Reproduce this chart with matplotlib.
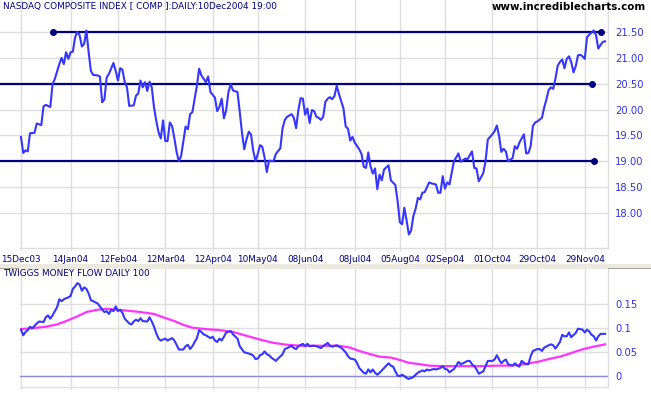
import matplotlib
matplotlib.use("Agg")
import matplotlib.pyplot as plt
from matplotlib.patches import Rectangle
import pandas as pd

# trading day number counted from 15 Dec 2003 (weekdays)
price_day = [
    0, 1, 2, 3, 4, 6, 7, 9, 10, 11, 13, 14, 15, 17, 18, 19, 20, 21, 22, 23,
    24, 25, 26, 27, 28, 29, 30, 31, 32, 34, 35, 36, 37, 38, 39, 41, 42, 43, 44, 45,
    46, 47, 48, 50, 51, 52, 53, 54, 55, 56, 57, 58, 59, 60, 61, 62, 63, 64, 65, 66,
    67, 68, 69, 70, 71, 72, 73, 74, 75, 76, 78, 79, 80, 82, 83, 84, 86, 87, 88, 89,
    90, 91, 92, 93, 94, 96, 97, 98, 99, 100, 101, 102, 103, 104, 105, 106, 107, 108, 109, 110,
    112, 113, 115, 116, 117, 118, 120, 121, 122, 123, 124, 125, 126, 127, 128, 129, 130, 131, 132, 133,
    134, 135, 136, 137, 138, 139, 140, 141, 143, 144, 145, 146, 147, 148, 150, 151, 152, 153, 154, 155,
    156, 157, 158, 159, 160, 161, 163, 164, 166, 167, 168, 169, 170, 171, 172, 173, 174, 175, 176, 177,
    178, 179, 181, 182, 184, 185, 186, 187, 188, 189, 190, 191, 192, 194, 195, 197, 198, 200, 201, 202,
    203, 205, 206, 207, 209, 210, 211, 212, 213, 214, 215, 216, 218, 219, 220, 221, 223, 224, 225, 226,
    227, 228, 229, 231, 232, 233, 234, 235, 236, 237, 238, 239, 240, 241, 242, 243, 244, 245, 246, 247,
    248, 249, 250, 251, 252, 254, 255, 256, 257, 258, 259,
]
price_close = [
    19.47, 19.16, 19.21, 19.19, 19.54, 19.55, 19.73, 19.70, 20.06, 20.09, 20.05, 20.49, 20.59, 20.88, 21.00, 20.88, 21.11, 20.98, 21.11, 21.12,
    21.40, 21.50, 21.44, 21.22, 21.27, 21.53, 21.11, 20.75, 20.67, 20.66, 20.64, 20.14, 20.20, 20.62, 20.69, 20.90, 20.75, 20.56, 20.80, 20.77,
    20.53, 20.43, 20.07, 20.08, 20.27, 20.31, 20.56, 20.43, 20.53, 20.36, 20.54, 20.43, 20.04, 19.78, 19.56, 19.44, 19.79, 19.39, 19.39, 19.75,
    19.68, 19.45, 19.18, 19.00, 19.10, 19.39, 19.67, 19.62, 19.91, 19.95, 20.46, 20.79, 20.66, 20.53, 20.64, 20.34, 20.23, 19.97, 20.05, 20.21,
    19.83, 19.99, 20.34, 20.49, 20.37, 20.34, 19.96, 19.55, 19.23, 19.42, 19.57, 19.52, 19.20, 19.00, 19.14, 19.31, 19.28, 19.08, 18.79, 19.01,
    19.00, 19.14, 19.25, 19.64, 19.80, 19.86, 19.91, 19.84, 19.64, 19.99, 20.22, 20.21, 19.90, 20.02, 19.74, 19.99, 19.97, 19.86, 19.84, 19.80,
    19.86, 20.15, 20.21, 20.24, 20.20, 20.26, 20.46, 20.30, 20.02, 19.67, 19.63, 19.40, 19.47, 19.36, 19.23, 19.14, 18.89, 18.87, 19.17, 18.90,
    18.76, 18.86, 18.46, 18.74, 18.63, 18.84, 18.92, 18.63, 18.54, 18.23, 17.82, 17.78, 18.10, 17.85, 17.58, 17.66, 17.94, 18.08, 18.29, 18.26,
    18.39, 18.40, 18.59, 18.57, 18.55, 18.39, 18.39, 18.71, 18.47, 18.59, 18.55, 18.77, 19.00, 19.15, 18.99, 19.05, 19.04, 19.19, 18.87, 18.86,
    18.61, 18.77, 19.00, 19.42, 19.52, 19.58, 19.69, 19.49, 19.18, 19.24, 19.19, 19.00, 19.06, 19.29, 19.24, 19.36, 19.52, 19.15, 19.16, 19.29,
    19.68, 19.75, 19.77, 19.84, 20.04, 20.20, 20.38, 20.43, 20.40, 20.60, 20.85, 20.92, 20.97, 20.80, 20.98, 21.03, 20.92, 20.72, 20.84, 21.05,
    21.06, 21.03, 20.98, 21.40, 21.45, 21.53, 21.44, 21.18, 21.25, 21.31, 21.32,
]

mf_day = [
    0, 1, 2, 3, 4, 5, 7, 8, 10, 11, 12, 13, 14, 15, 16, 17, 18, 19, 21, 22,
    23, 24, 25, 26, 27, 28, 29, 30, 31, 32, 34, 35, 36, 37, 38, 39, 40, 41, 42, 43,
    44, 45, 46, 48, 49, 50, 51, 52, 53, 54, 56, 57, 58, 59, 60, 61, 62, 64, 65, 67,
    68, 69, 70, 72, 73, 74, 75, 76, 78, 79, 80, 81, 82, 84, 85, 86, 87, 88, 89, 90,
    91, 93, 94, 96, 97, 99, 100, 102, 103, 104, 105, 106, 107, 108, 109, 110, 111, 113, 114, 116,
    117, 118, 120, 121, 122, 123, 125, 126, 127, 128, 130, 131, 133, 134, 136, 137, 138, 140, 141, 142,
    144, 145, 146, 148, 149, 150, 152, 153, 154, 155, 156, 157, 158, 159, 160, 161, 162, 163, 164, 165,
    166, 167, 168, 169, 170, 171, 172, 174, 175, 176, 178, 179, 180, 181, 183, 184, 186, 187, 188, 189,
    190, 192, 193, 194, 195, 196, 198, 199, 200, 201, 202, 203, 205, 206, 207, 209, 210, 211, 212, 213,
    214, 215, 216, 218, 219, 220, 221, 222, 223, 224, 225, 226, 227, 229, 230, 231, 232, 234, 235, 236,
    237, 239, 240, 241, 242, 243, 244, 246, 247, 249, 250, 251, 252, 253, 254, 255, 256, 257, 259,
]
money_flow = [
    0.097, 0.085, 0.092, 0.096, 0.103, 0.100, 0.110, 0.114, 0.113, 0.123, 0.127, 0.120, 0.127, 0.136, 0.144, 0.161, 0.157, 0.161, 0.165, 0.168,
    0.183, 0.188, 0.195, 0.192, 0.179, 0.186, 0.183, 0.173, 0.159, 0.157, 0.152, 0.146, 0.139, 0.134, 0.136, 0.130, 0.139, 0.136, 0.146, 0.136,
    0.139, 0.132, 0.120, 0.110, 0.108, 0.114, 0.118, 0.115, 0.121, 0.115, 0.114, 0.123, 0.114, 0.103, 0.089, 0.078, 0.074, 0.078, 0.074, 0.079,
    0.074, 0.065, 0.055, 0.055, 0.062, 0.065, 0.056, 0.062, 0.079, 0.096, 0.092, 0.087, 0.085, 0.079, 0.082, 0.074, 0.071, 0.078, 0.074, 0.082,
    0.091, 0.094, 0.087, 0.078, 0.062, 0.049, 0.048, 0.045, 0.042, 0.035, 0.036, 0.043, 0.045, 0.051, 0.045, 0.043, 0.038, 0.031, 0.036, 0.045,
    0.056, 0.058, 0.063, 0.058, 0.056, 0.062, 0.067, 0.062, 0.067, 0.062, 0.063, 0.062, 0.058, 0.062, 0.069, 0.063, 0.061, 0.064, 0.061, 0.059,
    0.049, 0.041, 0.036, 0.034, 0.027, 0.016, 0.006, 0.004, 0.013, 0.007, 0.013, 0.006, 0.002, 0.006, 0.011, 0.016, 0.021, 0.026, 0.021, 0.019,
    0.009, 0.000, -0.001, 0.002, -0.001, -0.005, -0.007, -0.003, 0.002, 0.006, 0.011, 0.009, 0.013, 0.011, 0.014, 0.013, 0.016, 0.020, 0.014, 0.013,
    0.007, 0.014, 0.021, 0.029, 0.024, 0.026, 0.031, 0.031, 0.024, 0.020, 0.013, 0.004, 0.009, 0.020, 0.031, 0.031, 0.034, 0.043, 0.034, 0.026,
    0.031, 0.034, 0.024, 0.021, 0.026, 0.021, 0.019, 0.031, 0.027, 0.024, 0.024, 0.041, 0.052, 0.056, 0.056, 0.052, 0.059, 0.064, 0.066, 0.064,
    0.057, 0.071, 0.086, 0.083, 0.083, 0.091, 0.081, 0.090, 0.099, 0.097, 0.091, 0.097, 0.093, 0.086, 0.083, 0.074, 0.083, 0.088, 0.088,
]

signal_day = [
    0, 5, 11, 16, 20, 25, 29, 34, 38, 42, 47, 53, 59, 63, 68, 72, 76, 82, 88, 94,
    100, 106, 112, 118, 124, 131, 137, 141, 146, 150, 155, 159, 164, 168, 172, 177, 181, 187, 193, 199,
    205, 211, 217, 223, 229, 235, 239, 243, 248, 252, 257, 259,
]
signal = [
    0.098, 0.100, 0.103, 0.108, 0.115, 0.125, 0.134, 0.139, 0.141, 0.139, 0.137, 0.134, 0.130, 0.123, 0.115, 0.107, 0.101, 0.098, 0.096, 0.092,
    0.084, 0.076, 0.069, 0.065, 0.063, 0.063, 0.063, 0.063, 0.059, 0.052, 0.045, 0.040, 0.038, 0.033, 0.027, 0.024, 0.021, 0.020, 0.020, 0.020,
    0.020, 0.021, 0.021, 0.024, 0.029, 0.036, 0.040, 0.046, 0.054, 0.059, 0.064, 0.066,
]

# horizontal trendlines drawn on the price chart
line_level = [21.5, 20.5, 19.0]
line_start = [14, -12, -12]
line_end = [257, 253, 254]
line_start_dot = [True, False, False]

tick_dates = ["2003-12-15", "2004-01-14", "2004-02-12", "2004-03-12", "2004-04-12",
              "2004-05-10", "2004-06-08", "2004-07-08", "2004-08-05", "2004-09-02",
              "2004-10-01", "2004-10-29", "2004-11-29"]
price_ticks = [18.0, 18.5, 19.0, 19.5, 20.0, 20.5, 21.0, 21.5]
mf_ticks = [0, 0.05, 0.1, 0.15]
mf_tick_labels = ["0", "0.05", "0.1", "0.15"]

NAVY = "#000080"
BLUE = "#3535ff"
GRID = "#dedede"

days = pd.bdate_range("2003-12-15", "2004-12-10")
tick_idx = days.get_indexer(pd.to_datetime(tick_dates))
tick_labels = [days[i].strftime("%d%b%y") for i in tick_idx]

W, H = 651, 395
fig = plt.figure(figsize=(W / 100, H / 100), dpi=100)
fig.patch.set_facecolor("white")

ax1 = fig.add_axes([0, 147 / H, 608 / W, 248 / H])
ax2 = fig.add_axes([20 / W, 8 / H, 588 / W, 120 / H])

for ax in (ax1, ax2):
    ax.set_xticks(tick_idx)
    ax.grid(True, color=GRID, linewidth=1.0)
    ax.set_axisbelow(True)
    ax.yaxis.tick_right()
    ax.spines["top"].set_visible(False)
    ax.spines["left"].set_visible(False)
    for s in ("bottom", "right"):
        ax.spines[s].set_color(GRID)
        ax.spines[s].set_linewidth(1.0)
    ax.tick_params(axis="y", length=0, pad=5, labelsize=7.2, labelcolor="#3030e8")
    ax.tick_params(axis="x", length=2, color=GRID, pad=3, labelsize=6.4, labelcolor=NAVY)

# price panel
ax1.set_xlim(-9.3, 260.3)
ax1.set_ylim(17.32, 22.12)
ax1.spines["bottom"].set_bounds(-0.44, 260.3)
ax1.set_yticks(price_ticks)
ax1.set_yticklabels([f"{v:.2f}" for v in price_ticks])
ax1.set_xticklabels(tick_labels)

for lvl, x0, x1, dot0 in zip(line_level, line_start, line_end, line_start_dot):
    ax1.plot([x0, x1], [lvl, lvl], color=NAVY, linewidth=1.6, zorder=3, clip_on=True)
    ax1.plot([x1], [lvl], "o", color=NAVY, markersize=4, zorder=4)
    if dot0:
        ax1.plot([x0], [lvl], "o", color=NAVY, markersize=4, zorder=4)

ax1.plot(price_day, price_close, color=BLUE, linewidth=1.5, zorder=5)

# money flow panel
ax2.set_xlim(-0.44, 260.3)
ax2.set_ylim(-0.024, 0.229)
ax2.set_yticks(mf_ticks)
ax2.set_yticklabels(mf_tick_labels)
ax2.tick_params(axis="x", labelbottom=False)
ax2.axhline(0, color="#8c8cd6", linewidth=1.0, zorder=2)
ax2.plot(signal_day, signal, color="#ff33ff", linewidth=1.6, zorder=3)
ax2.plot(mf_day, money_flow, color=BLUE, linewidth=1.5, zorder=4)

# separator band between the panels
fig.patches.append(Rectangle((0, (H - 269) / H), 1, 5 / H, transform=fig.transFigure,
                             facecolor="#eceae0", edgecolor="none", zorder=0))
fig.patches.append(Rectangle((0, (H - 269) / H), 19 / W, 1 / H, transform=fig.transFigure,
                             facecolor="#a8a498", edgecolor="none", zorder=0))
fig.patches.append(Rectangle((608 / W, (H - 269) / H), 43 / W, 1 / H, transform=fig.transFigure,
                             facecolor="#a8a498", edgecolor="none", zorder=0))

fig.text(3 / W, 1 - 7 / H, "NASDAQ COMPOSITE INDEX [ COMP ]:DAILY:10Dec2004 19:00",
         color=NAVY, fontsize=6.4, va="center", ha="left")
fig.text(646 / W, 1 - 7 / H, "www.incrediblecharts.com", color="black",
         fontsize=7.4, fontweight="bold", va="center", ha="right")
fig.text(3 / W, 1 - 274 / H, "TWIGGS MONEY FLOW DAILY 100",
         color=NAVY, fontsize=6.4, va="center", ha="left")

fig.savefig("out.png", dpi=100)
